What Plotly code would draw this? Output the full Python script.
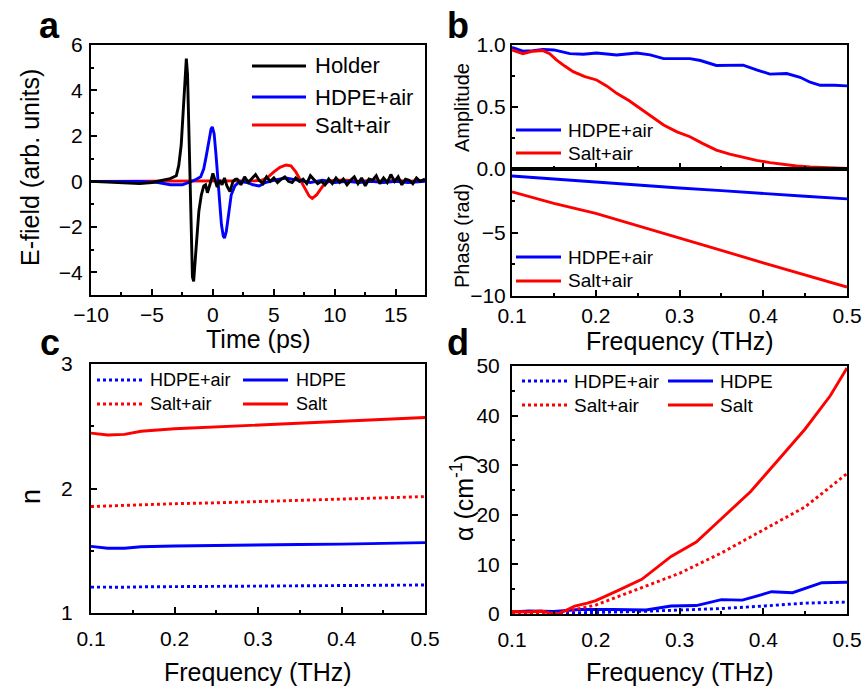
import plotly.graph_objects as go

W, H = 865, 688
FONT = "Liberation Sans, Arial, sans-serif"
BLUE = "#0000FF"
RED = "#FF0000"
BLACK = "#000000"

# ---------------- Panel a data (time domain) ----------------
t_holder = [-10, -8, -6, -5, -4, -3.5, -3, -2.8, -2.6, -2.45, -2.3, -2.18, -2.08, -1.98,
            -1.88, -1.78, -1.68, -1.58, -1.48, -1.35, -1.15, -0.95, -0.75, -0.6, -0.45,
            -0.25, 0.0, 0.15, 0.35, 0.55, 0.75, 0.95, 1.15, 1.4, 1.65, 1.85,
            2.0, 2.3, 2.6, 2.9, 3.2, 3.5, 3.8, 4.1, 4.4, 4.7, 5.0, 5.3, 5.6, 5.9, 6.2,
            6.5, 6.8, 7.1, 7.4, 7.7, 8.0, 8.3, 8.6, 8.9, 9.2, 9.5, 9.8, 10.1, 10.4, 10.7,
            11.0, 11.3, 11.6, 11.9, 12.2, 12.5, 12.8, 13.1, 13.4, 13.7, 14.0, 14.3, 14.6,
            14.9, 15.2, 15.5, 15.8, 16.1, 16.4, 16.7, 17.0, 17.4]
e_holder = [0.0, -0.05, -0.1, -0.05, 0.05, 0.12, 0.25, 0.7, 1.6, 3.0, 4.6, 5.4, 4.7, 2.4,
            -0.4, -2.8, -4.2, -4.4, -3.7, -2.4, -1.3, -0.6, -0.2, -0.15, -0.5,
            -0.15, 0.35, 0.1, -0.25, 0.05, -0.15, 0.15, -0.2, -0.45, 0.0, 0.1,
            0.1, -0.15, 0.2, -0.05, 0.15, 0.3, 0.05, -0.1, 0.2, 0.0, 0.15, -0.05, 0.1, 0.2,
            0.0, -0.05, 0.15, 0.0, 0.1, -0.1, 0.25, 0.05, -0.1, 0.0, -0.15, 0.1, -0.1,
            0.15, -0.05, 0.1, -0.15, 0.05, 0.2, -0.1, 0.15, -0.2, 0.1, 0.05, 0.25, -0.1,
            0.15, -0.05, 0.3, 0.0, 0.2, -0.15, 0.1, 0.05, -0.1, 0.15, 0.0, 0.1]

t_hdpe = [-10, -6, -4.5, -3.5, -2.5, -2.0, -1.5, -1.0, -0.75, -0.55, -0.35, -0.15, -0.05,
          0.1, 0.25, 0.4, 0.55, 0.7, 0.85, 0.95, 1.1, 1.3, 1.5, 1.8, 2.2, 2.8, 3.3, 3.8,
          4.3, 5.0, 5.5, 6.0, 6.5, 7.0, 8.0, 9.0, 10.0, 11.0, 12.0, 13.0, 14.0, 15.0,
          16.0, 17.4]
e_hdpe = [0.0, 0.0, -0.05, -0.15, -0.15, -0.05, 0.05, 0.2, 0.55, 1.1, 1.8, 2.3, 2.4,
          2.1, 1.2, 0.1, -1.0, -1.9, -2.4, -2.5, -2.2, -1.3, -0.6, -0.2, 0.0, -0.05,
          -0.15, -0.2, -0.05, 0.05, 0.1, 0.15, 0.1, 0.05, -0.05, 0.05, -0.05, 0.0, -0.05,
          0.0, -0.05, 0.0, -0.05, 0.0]

t_salt = [-10, -4, 0, 2, 3, 3.5, 4.0, 4.5, 5.0, 5.5, 6.0, 6.4, 6.8, 7.25, 7.6, 7.9, 8.15,
          8.5, 9.0, 9.5, 10.0, 11.0, 12.0, 13.0, 14.0, 15.0, 16.0, 17.4]
e_salt = [0.0, 0.0, 0.02, 0.02, 0.03, 0.03, 0.05, 0.18, 0.42, 0.62, 0.72, 0.68, 0.42,
          0.0, -0.38, -0.65, -0.75, -0.6, -0.22, 0.0, 0.05, 0.05, 0.0, 0.05, 0.0, 0.05,
          0.0, 0.05]

# ---------------- Panel b data (amplitude & phase) ----------------
f_amp_hdpe = [0.1, 0.113, 0.125, 0.137, 0.15, 0.169, 0.185, 0.201, 0.225, 0.249, 0.265,
              0.281, 0.3125, 0.325, 0.344, 0.36, 0.376, 0.392, 0.408, 0.428, 0.444,
              0.456, 0.468, 0.485, 0.5]
amp_hdpe = [0.98, 0.95, 0.955, 0.965, 0.96, 0.93, 0.925, 0.935, 0.92, 0.935, 0.92, 0.89,
            0.89, 0.875, 0.835, 0.835, 0.838, 0.8, 0.765, 0.77, 0.74, 0.7, 0.675, 0.675,
            0.67]
f_amp_salt = [0.1, 0.113, 0.125, 0.137, 0.145, 0.153, 0.163, 0.173, 0.187, 0.201, 0.213,
              0.225, 0.24, 0.253, 0.267, 0.281, 0.297, 0.3125, 0.328, 0.344, 0.36, 0.376,
              0.392, 0.408, 0.424, 0.44, 0.456, 0.472, 0.486, 0.5]
amp_salt = [0.96, 0.93, 0.95, 0.955, 0.93, 0.88, 0.83, 0.785, 0.745, 0.718, 0.67, 0.61,
            0.55, 0.49, 0.425, 0.355, 0.3, 0.26, 0.205, 0.153, 0.12, 0.094, 0.07, 0.051,
            0.036, 0.024, 0.016, 0.01, 0.006, 0.005]

f_phase = [0.1, 0.15, 0.2, 0.25, 0.3, 0.35, 0.4, 0.45, 0.5]
phase_hdpe = [-0.55, -0.8, -1.0, -1.25, -1.5, -1.7, -1.95, -2.15, -2.35]
phase_salt = [-1.8, -2.7, -3.5, -4.45, -5.4, -6.4, -7.4, -8.35, -9.3]

# ---------------- Panel c data (refractive index) ----------------
f_n = [0.1, 0.12, 0.14, 0.16, 0.2, 0.25, 0.3, 0.35, 0.4, 0.45, 0.5]
n_salt = [2.445, 2.43, 2.435, 2.46, 2.48, 2.495, 2.51, 2.525, 2.54, 2.55, 2.57]
n_salt_air = [1.855, 1.86, 1.865, 1.87, 1.878, 1.885, 1.895, 1.905, 1.915, 1.922, 1.935]
n_hdpe = [1.535, 1.52, 1.52, 1.532, 1.538, 1.54, 1.545, 1.55, 1.553, 1.558, 1.565]
n_hdpe_air = [1.208, 1.205, 1.207, 1.21, 1.212, 1.214, 1.216, 1.218, 1.22, 1.222, 1.225]

# ---------------- Panel d data (absorption) ----------------
f_a_salt = [0.1, 0.12, 0.135, 0.145, 0.155, 0.165, 0.175, 0.19, 0.2, 0.225, 0.255, 0.29,
            0.32, 0.35, 0.385, 0.415, 0.45, 0.48, 0.5]
a_salt = [0.5, 0.4, 0.6, 0.2, 0.0, 0.8, 1.6, 2.2, 2.7, 4.6, 7.0, 11.6, 14.5, 19.2, 24.7,
          30.5, 37.3, 44.0, 49.6]
f_a_salt_air = [0.1, 0.15, 0.175, 0.2, 0.25, 0.3, 0.35, 0.4, 0.45, 0.5]
a_salt_air = [0.3, 0.1, 0.9, 1.8, 5.0, 8.2, 12.3, 16.9, 21.6, 28.3]
f_a_hdpe = [0.1, 0.12, 0.15, 0.18, 0.22, 0.26, 0.29, 0.32, 0.35, 0.375, 0.39, 0.41,
            0.435, 0.45, 0.47, 0.5]
a_hdpe = [0.4, 0.6, 0.5, 0.9, 0.9, 0.8, 1.6, 1.7, 2.9, 2.8, 3.5, 4.5, 4.3, 5.2, 6.3, 6.4]
f_a_hdpe_air = [0.1, 0.15, 0.2, 0.25, 0.3, 0.35, 0.4, 0.45, 0.5]
a_hdpe_air = [0.2, 0.2, 0.3, 0.5, 0.8, 1.1, 1.6, 2.2, 2.4]

# ---------------- helpers ----------------
def X(px):
    return px / W


def Y(py):
    return 1 - py / H


LW = 2.9


def axis(domain, rng, dtick, minor_dtick, tick0=0, **kw):
    d = dict(domain=domain, range=rng, showline=True, linecolor=BLACK, linewidth=2,
             mirror=True, ticks="inside", ticklen=6, tickwidth=1.5, tickcolor=BLACK,
             showgrid=False, zeroline=False, tickmode="linear", dtick=dtick, tick0=tick0,
             automargin=False,
             tickfont=dict(family=FONT, size=21, color=BLACK),
             minor=dict(ticks="inside", ticklen=3, tickwidth=1.5, tickcolor=BLACK,
                        dtick=minor_dtick, tick0=tick0, showgrid=False))
    d.update(kw)
    return d


fig = go.Figure()


def line(x, y, color, xa, ya, dash="solid", name=None):
    fig.add_trace(go.Scatter(x=x, y=y, mode="lines", name=name,
                             line=dict(color=color, width=LW, dash=dash),
                             xaxis=xa, yaxis=ya, showlegend=False))


# panel a
line(t_salt, e_salt, RED, "x", "y", name="Salt+air")
line(t_hdpe, e_hdpe, BLUE, "x", "y", name="HDPE+air")
line(t_holder, e_holder, BLACK, "x", "y", name="Holder")
# panel b
line(f_amp_hdpe, amp_hdpe, BLUE, "x2", "y2", name="HDPE+air")
line(f_amp_salt, amp_salt, RED, "x2", "y2", name="Salt+air")
line(f_phase, phase_hdpe, BLUE, "x3", "y3", name="HDPE+air")
line(f_phase, phase_salt, RED, "x3", "y3", name="Salt+air")
# panel c
line(f_n, n_hdpe_air, BLUE, "x4", "y4", dash="dot", name="HDPE+air")
line(f_n, n_hdpe, BLUE, "x4", "y4", name="HDPE")
line(f_n, n_salt_air, RED, "x4", "y4", dash="dot", name="Salt+air")
line(f_n, n_salt, RED, "x4", "y4", name="Salt")
# panel d
line(f_a_hdpe_air, a_hdpe_air, BLUE, "x5", "y5", dash="dot", name="HDPE+air")
line(f_a_hdpe, a_hdpe, BLUE, "x5", "y5", name="HDPE")
line(f_a_salt_air, a_salt_air, RED, "x5", "y5", dash="dot", name="Salt+air")
line(f_a_salt, a_salt, RED, "x5", "y5", name="Salt")

# domains (from pixel boxes)
dom_ax = [X(91), X(425)]
dom_bx = [X(512), X(847)]
dom_ay = [Y(295), Y(45)]
dom_b1y = [Y(169), Y(45)]
dom_b2y = [Y(296), Y(169)]
dom_cy = [Y(613), Y(364)]
dom_dy = [Y(614), Y(366)]

layout = dict(
    template="none",
    width=W, height=H, margin=dict(l=0, r=0, t=0, b=0, autoexpand=False),
    paper_bgcolor="white", plot_bgcolor="white", showlegend=False,
    font=dict(family=FONT, color=BLACK),
    xaxis=axis(dom_ax, [-10, 17.4], 5, 2.5, anchor="y"),
    yaxis=axis(dom_ay, [-5, 6], 2, 1, anchor="x", ticklabelstandoff=2),
    xaxis2=axis(dom_bx, [0.1, 0.5], 0.1, 0.05, tick0=0.1, anchor="y2",
                showticklabels=False),
    yaxis2=axis(dom_b1y, [0, 1.0], 0.5, 0.25, anchor="x2", tickformat=".1f"),
    xaxis3=axis(dom_bx, [0.1, 0.5], 0.1, 0.05, tick0=0.1, anchor="y3", tickformat=".1f"),
    yaxis3=axis(dom_b2y, [-10, 0], 5, 2.5, tick0=-10, anchor="x3"),
    xaxis4=axis(dom_ax, [0.1, 0.5], 0.1, 0.05, tick0=0.1, anchor="y4", tickformat=".1f",
                ticklabelstandoff=6),
    yaxis4=axis(dom_cy, [1, 3], 1, 0.5, anchor="x4", ticklabelstandoff=12),
    xaxis5=axis(dom_bx, [0.1, 0.5], 0.1, 0.05, tick0=0.1, anchor="y5", tickformat=".1f",
                ticklabelstandoff=6),
    yaxis5=axis(dom_dy, [0, 50], 10, 5, anchor="x5", ticklabelstandoff=6),
)
# hide the 0 label on the phase axis (it coincides with amplitude 0.0)
layout["yaxis3"].update(tickmode="array", tickvals=[-10, -5], ticktext=["\u221210", "\u22125"])
layout["yaxis3"]["minor"] = dict(ticks="inside", ticklen=3, tickwidth=1.5, tickcolor=BLACK,
                                 tickmode="array", tickvals=[-7.5, -2.5])
fig.update_layout(**layout)

ann = []
shapes = []


def text(px, py, s, size, angle=0, bold=False, xanchor="center"):
    ann.append(dict(x=X(px), y=Y(py), xref="paper", yref="paper", text=s,
                    showarrow=False, textangle=angle, xanchor=xanchor, yanchor="middle",
                    font=dict(family=FONT, size=size, color=BLACK,
                              weight="bold" if bold else "normal")))


def key(x0, x1, py, color, dash="solid"):
    shapes.append(dict(type="line", xref="paper", yref="paper", x0=X(x0), x1=X(x1),
                       y0=Y(py), y1=Y(py), line=dict(color=color, width=LW, dash=dash)))


# panel letters
text(49, 26, "a", 36, bold=True)
text(458, 26, "b", 36, bold=True)
text(50, 342, "c", 36, bold=True)
text(458, 342, "d", 36, bold=True)

# axis titles
text(30, 168, "E-field (arb. units)", 25, angle=-90)
text(258, 339, "Time (ps)", 25)
text(462, 107, "Amplitude", 20, angle=-90)
text(462, 235, "Phase (rad)", 20, angle=-90)
text(680, 341, "Frequency (THz)", 25)
text(31, 497, "n", 27, angle=-90)
text(258, 672, "Frequency (THz)", 25)
text(462, 497, "\u03b1 (cm<sup>-1</sup>)", 25, angle=-90)
text(680, 672, "Frequency (THz)", 25)

# legend a
for py, lab, col in [(66, "Holder", BLACK), (97, "HDPE+air", BLUE), (125, "Salt+air", RED)]:
    key(252, 306, py, col)
    text(313, py, lab, 22, xanchor="left")
# legend b amplitude & phase
for py, lab, col in [(130, "HDPE+air", BLUE), (153, "Salt+air", RED),
                     (257, "HDPE+air", BLUE), (281, "Salt+air", RED)]:
    key(516, 561, py, col)
    text(566, py, lab, 19, xanchor="left")
# legend c
for x0, py, lab, col, dash in [(97, 380, "HDPE+air", BLUE, "dot"), (243, 380, "HDPE", BLUE, "solid"),
                               (97, 404, "Salt+air", RED, "dot"), (243, 404, "Salt", RED, "solid")]:
    key(x0, x0 + 45, py, col, dash)
    text(x0 + 51, py, lab, 18, xanchor="left")
# legend d
for x0, py, lab, col, dash in [(522, 381, "HDPE+air", BLUE, "dot"), (668, 381, "HDPE", BLUE, "solid"),
                               (522, 405, "Salt+air", RED, "dot"), (668, 405, "Salt", RED, "solid")]:
    key(x0, x0 + 45, py, col, dash)
    text(x0 + 50, py, lab, 19, xanchor="left")

fig.update_layout(annotations=ann, shapes=shapes)
fig.write_html("out.html", config={"displayModeBar": False},
               post_script="document.body.style.margin='0';document.body.style.padding='0';")
